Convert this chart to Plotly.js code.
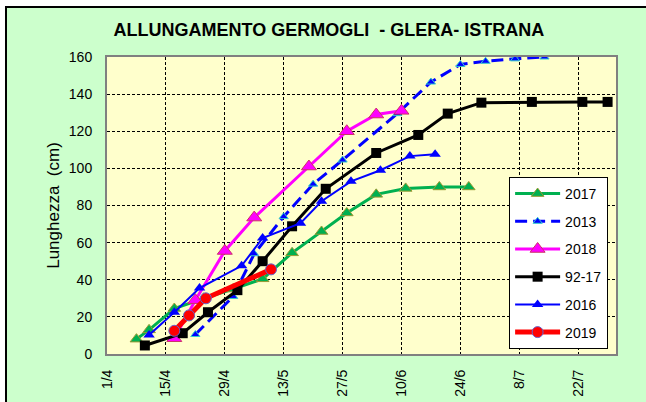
<!DOCTYPE html>
<html>
<head>
<meta charset="utf-8">
<script src="https://cdn.plot.ly/plotly-3.0.1.min.js"></script>
<style>
  html, body { margin: 0; padding: 0; background: #ffffff; overflow: hidden; }
  #frame { position: absolute; left: 5px; top: 6px; width: 700px; height: 500px; background: #CCFFCC; border: 2px solid #000; }
  #plot { position: absolute; left: 0; top: 0; width: 646px; height: 402px; }
</style>
</head>
<body>
<div id="frame"></div>
<div id="plot"></div>
<script>
// ---- data (dates, year arbitrary) ----
const x2017 = ["2019-04-08","2019-04-11","2019-04-17","2019-04-24","2019-05-01","2019-05-08","2019-05-15","2019-05-22","2019-05-28","2019-06-04","2019-06-11","2019-06-19","2019-06-26"];
const y2017 = [8, 13, 24.5, 30, 35, 40.5, 54.5, 66, 76, 86, 89.2, 90, 90];

const x2013 = ["2019-04-22","2019-05-01","2019-05-06","2019-05-13","2019-05-20","2019-05-27","2019-06-09","2019-06-17","2019-06-24","2019-06-30","2019-07-07","2019-07-14"];
const y2013 = [10.5, 31, 54, 74, 91.5, 104.5, 129.5, 146.5, 156, 157.7, 159, 160];

const x2018 = ["2019-04-17","2019-04-22","2019-04-29","2019-05-06","2019-05-19","2019-05-28","2019-06-04","2019-06-10"];
const y2018 = [8.5, 29, 55.5, 73.5, 101, 120, 129, 131];

const x9217 = ["2019-04-10","2019-04-19","2019-04-25","2019-05-02","2019-05-08","2019-05-15","2019-05-23","2019-06-04","2019-06-14","2019-06-21","2019-06-29","2019-07-11","2019-07-23","2019-07-29"];
const y9217 = [4.6, 11.2, 22.5, 34.4, 50, 68.8, 89, 108.3, 118, 129.5, 135.4, 135.8, 135.8, 135.8];

const x2016 = ["2019-04-11","2019-04-17","2019-04-23","2019-05-03","2019-05-08","2019-05-17","2019-05-22","2019-05-29","2019-06-05","2019-06-12","2019-06-18"];
const y2016 = [10.2, 22.5, 35.5, 47.5, 62.5, 70.5, 82.3, 93, 99, 106.6, 107.6];

const x2019 = ["2019-04-17","2019-04-20 12:00","2019-04-24 12:00","2019-05-10"];
const y2019 = [12.5, 20.8, 30, 45.6];

const tickDates = ["2019-04-01","2019-04-15","2019-04-29","2019-05-13","2019-05-27","2019-06-10","2019-06-24","2019-07-08","2019-07-22"];
const tickLabels = ["1/4","15/4","29/4","13/5","27/5","10/6","24/6","8/7","22/7"];

const traces = [
  {name: "2017", x: x2017, y: y2017, mode: "lines+markers", legendgroup: "a",
   line: {color: "#00B050", width: 3},
   marker: {symbol: "triangle-up", size: 11, color: "#00B050", line: {color: "#999933", width: 1}}},
  {name: "2013", x: x2013, y: y2013, mode: "lines+markers", legendgroup: "b",
   line: {color: "#0000FF", width: 3, dash: "12px,6px"},
   marker: {symbol: "triangle-up", size: 8, color: "#0000FF", line: {color: "#33CCCC", width: 1}}},
  {name: "2018", x: x2018, y: y2018, mode: "lines+markers", legendgroup: "c",
   line: {color: "#FF00FF", width: 3},
   marker: {symbol: "triangle-up", size: 13, color: "#FF00FF", line: {color: "#CC3366", width: 1}}},
  {name: "92-17", x: x9217, y: y9217, mode: "lines+markers", legendgroup: "d",
   line: {color: "#000000", width: 3},
   marker: {symbol: "square", size: 10, color: "#000000"}},
  {name: "2016", x: x2016, y: y2016, mode: "lines+markers", legendgroup: "e",
   line: {color: "#0000FF", width: 2},
   marker: {symbol: "triangle-up", size: 10, color: "#0000FF"}},
  {name: "2019", x: x2019, y: y2019, mode: "lines+markers", legendgroup: "f",
   line: {color: "#FF0000", width: 5},
   marker: {symbol: "circle", size: 11, color: "#FF0000", line: {color: "#6666CC", width: 1}}}
];

const layout = {
  width: 646, height: 402,
  margin: {l: 107, r: 30, t: 57, b: 48},
  paper_bgcolor: "rgba(0,0,0,0)",
  plot_bgcolor: "#FFFFCC",
  font: {family: "Arial, Liberation Sans, sans-serif", size: 14, color: "#000"},
  title: {text: "<b>ALLUNGAMENTO GERMOGLI  - GLERA- ISTRANA</b>", xref: "container", x: 0.509, xanchor: "center",
          yref: "container", y: 0.925, yanchor: "middle", font: {size: 18, family: "Arial, Liberation Sans, sans-serif", color: "#000"}},
  xaxis: {type: "date", range: ["2019-04-01", "2019-07-31"], tickvals: tickDates, ticktext: tickLabels,
          tickangle: -90, showgrid: true, gridcolor: "#000", gridwidth: 1, griddash: "3px,2px",
          showline: true, linecolor: "#808080", linewidth: 2, mirror: true, ticks: "", ticklabelstandoff: 8,
          zeroline: false, fixedrange: true},
  yaxis: {range: [0, 160], dtick: 20, tick0: 0, showgrid: true, gridcolor: "#000", gridwidth: 1, griddash: "3px,2px",
          showline: true, linecolor: "#808080", linewidth: 2, mirror: true, ticks: "", ticklabelstandoff: 10,
          zeroline: false, automargin: false,
          title: {text: "Lunghezza  (cm)", font: {size: 17}, standoff: 5}},
  legend: {x: 0.79, xanchor: "left", y: 0.596, yanchor: "top", bgcolor: "#FFFFFF", bordercolor: "#000", borderwidth: 1,
           font: {size: 14}, itemwidth: 45, tracegroupgap: 6.5, traceorder: "grouped"},
  showlegend: true
};

Plotly.newPlot("plot", traces, layout, {staticPlot: true, displayModeBar: false});
</script>
</body>
</html>
